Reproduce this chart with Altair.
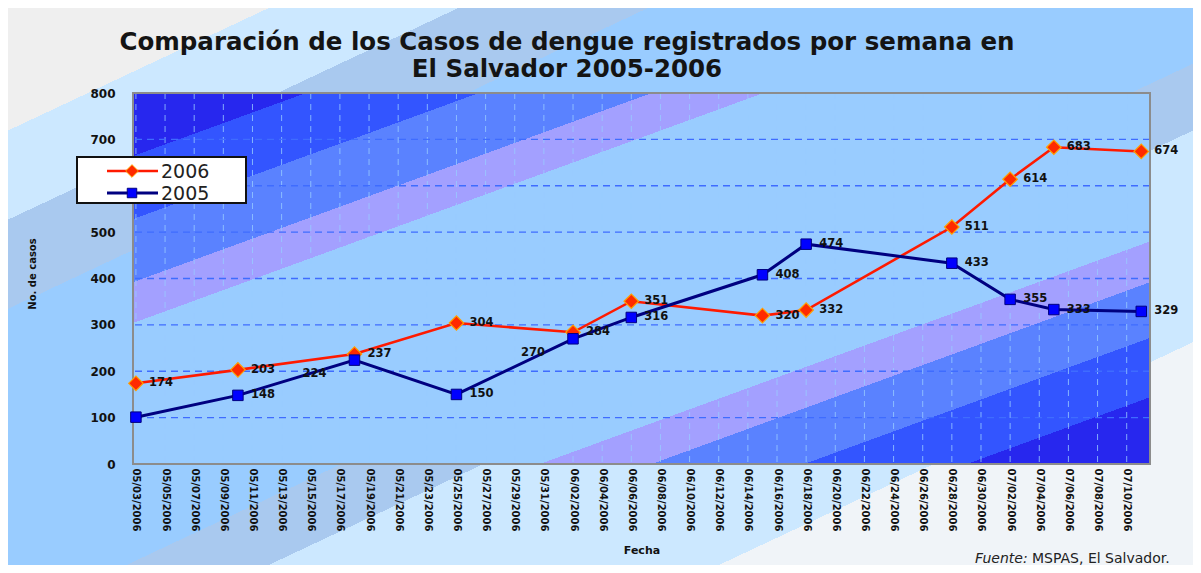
import json
import pandas as pd
import altair as alt

# ---------------- data ----------------
series_names = ["2006", "2005"]
point_dates = ["05/03/2006", "05/10/2006", "05/18/2006", "05/25/2006", "06/02/2006", "06/06/2006",
               "06/15/2006", "06/18/2006", "06/28/2006", "07/02/2006", "07/05/2006", "07/11/2006"]
cases_2006 = [174, 203, 237, 304, 284, 351, 320, 332, 511, 614, 683, 674]
cases_2005 = [101, 148, 224, 150, 270, 316, 408, 474, 433, 355, 333, 329]
tick_labels = ["05/03/2006", "05/05/2006", "05/07/2006", "05/09/2006", "05/11/2006", "05/13/2006",
               "05/15/2006", "05/17/2006", "05/19/2006", "05/21/2006", "05/23/2006", "05/25/2006",
               "05/27/2006", "05/29/2006", "05/31/2006", "06/02/2006", "06/04/2006", "06/06/2006",
               "06/08/2006", "06/10/2006", "06/12/2006", "06/14/2006", "06/16/2006", "06/18/2006",
               "06/20/2006", "06/22/2006", "06/24/2006", "06/26/2006", "06/28/2006", "06/30/2006",
               "07/02/2006", "07/04/2006", "07/06/2006", "07/08/2006", "07/10/2006"]
y_ticks = [0, 100, 200, 300, 400, 500, 600, 700, 800]
title_lines = ["Comparación de los Casos de dengue registrados por semana en", "El Salvador 2005-2006"]
x_title = "Fecha"
y_title = "No. de casos"
source_label = "Fuente:"
source_text = "MSPAS, El Salvador."

# label placement (style)
unlabeled = [("2005", "05/03/2006")]
left_labeled = [("2005", "05/18/2006"), ("2005", "06/02/2006")]
hidden_y_label = 600  # covered by the legend box in the original

# ---------------- build tables ----------------
origin = pd.to_datetime(tick_labels[0], format="%m/%d/%Y")


def day_of(s):
    return int((pd.to_datetime(s, format="%m/%d/%Y") - origin).days)


tick_days = [day_of(s) for s in tick_labels]
point_days = [day_of(s) for s in point_dates]

rows = []
for name, vals in zip(series_names, [cases_2006, cases_2005]):
    for d, day, v in zip(point_dates, point_days, vals):
        place = "right"
        if (name, d) in unlabeled:
            place = "none"
        elif (name, d) in left_labeled:
            place = "left"
        rows.append({"serie": name, "fecha": d, "dia": day, "casos": v, "lugar": place})
df = pd.DataFrame(rows)
tick_df = pd.DataFrame({"dia": tick_days})
grid_df = pd.DataFrame({"casos": y_ticks[1:]})
one = pd.DataFrame({"k": [0]})

W, H = 1017, 371
colors = {"2006": "#ff1a00", "2005": "#000080"}

label_expr = f"{json.dumps(tick_labels)}[indexof({json.dumps(tick_days)}, datum.value)]"

x_axis = alt.Axis(values=tick_days, labelExpr=label_expr, labelAngle=90, labelAlign="left",
                  labelBaseline="middle", labelFont="DejaVu Sans", labelFontWeight="bold",
                  labelFontSize=10, labelColor="#111111", labelPadding=4, labelOverlap=False,
                  labelFlush=False, labelBound=False, ticks=False, domain=False, grid=False,
                  title=x_title, titleFont="DejaVu Sans", titleFontSize=11, titleFontWeight="bold",
                  titleColor="#111111", titleY=86, titleBaseline="middle", zindex=1)
y_axis = alt.Axis(values=y_ticks, labelExpr=f"datum.value == {hidden_y_label} ? '' : datum.label",
                  labelFont="DejaVu Sans", labelFontWeight="bold", labelFontSize=12,
                  labelColor="#111111", labelPadding=18, ticks=False, domain=False, grid=False,
                  title=y_title, titleFont="DejaVu Sans", titleFontSize=10, titleFontWeight="bold",
                  titleColor="#111111", titleX=-101, titleY=H / 2 - 5, titleBaseline="middle",
                  titleAngle=270, zindex=1)


def X():
    return alt.X("dia:Q", scale=alt.Scale(domain=[-0.2, 69.6], nice=False, zero=False), axis=x_axis)


def Y():
    return alt.Y("casos:Q", scale=alt.Scale(domain=[0, 800], nice=False, zero=True), axis=y_axis)


def hard_stops(edges, cols):
    stops = []
    for i, c in enumerate(cols):
        stops.append(alt.GradientStop(color=c, offset=edges[i]))
        stops.append(alt.GradientStop(color=c, offset=edges[i + 1]))
    return stops


outer_edges = [0, 0.11, 0.19, 0.27, 0.55, 0.61, 0.80, 1]
outer_cols = ["#efefef", "#cce8ff", "#a9c9ef", "#99ccff", "#a9c9ef", "#cce8ff", "#f0f4f8"]
plot_edges = [0, 0.085, 0.17, 0.255, 0.31, 0.70, 0.755, 0.83, 0.91, 1]
plot_cols = ["#2727ee", "#3355ff", "#5a82ff", "#a3a0ff", "#99ccff", "#a3a0ff", "#5a82ff", "#3355ff", "#2727ee"]

outer_bg = alt.Chart(one).mark_rect(
    fill=alt.LinearGradient(gradient="linear", stops=hard_stops(outer_edges, outer_cols),
                            x1=0, y1=0, x2=1, y2=1)
).encode(x=alt.value(-125), x2=alt.value(1060), y=alt.value(-85), y2=alt.value(472))

plot_bg = alt.Chart(one).mark_rect(
    fill=alt.LinearGradient(gradient="linear", stops=hard_stops(plot_edges, plot_cols),
                            x1=0, y1=0, x2=1, y2=1)
).encode(x=alt.value(0), x2=alt.value(W), y=alt.value(0), y2=alt.value(H))

vgrid = alt.Chart(tick_df).mark_rule(color="#99ccff", strokeDash=[6, 5], strokeWidth=1,
                                     opacity=0.8).encode(x=X())
hgrid = alt.Chart(grid_df).mark_rule(color="#3f6cff", strokeDash=[7, 5], strokeWidth=1.3).encode(y=Y())

border = alt.Chart(one).mark_rect(fillOpacity=0, stroke="#8c8c8c", strokeWidth=2).encode(
    x=alt.value(0), x2=alt.value(W), y=alt.value(0), y2=alt.value(H))

line06 = alt.Chart(df).transform_filter(alt.datum.serie == "2006").mark_line(
    color=colors["2006"], strokeWidth=2.6).encode(x=X(), y=Y())
line05 = alt.Chart(df).transform_filter(alt.datum.serie == "2005").mark_line(
    color=colors["2005"], strokeWidth=3).encode(x=X(), y=Y())
pts06 = alt.Chart(df).transform_filter(alt.datum.serie == "2006").mark_point(
    shape="diamond", filled=True, fill="#ff2a00", stroke="#ffa000", strokeWidth=1.2, size=210,
    opacity=1).encode(x=X(), y=Y())
pts05 = alt.Chart(df).transform_filter(alt.datum.serie == "2005").mark_point(
    shape="square", filled=True, fill="#0000ff", stroke="#000080", strokeWidth=1, size=110,
    opacity=1).encode(x=X(), y=Y())

lab_right = alt.Chart(df).transform_filter(alt.datum.lugar == "right").mark_text(
    align="left", baseline="middle", dx=13, font="DejaVu Sans", fontWeight="bold", fontSize=11.5,
    color="#111111").encode(x=X(), y=Y(), text="casos:Q")
lab_left = alt.Chart(df).transform_filter(alt.datum.lugar == "left").mark_text(
    align="right", baseline="middle", dx=-28, dy=14, font="DejaVu Sans", fontWeight="bold",
    fontSize=11.5, color="#111111").encode(x=X(), y=Y(), text="casos:Q")

# legend (drawn as a boxed key)
leg_box = alt.Chart(one).mark_rect(fill="white", stroke="#111111", strokeWidth=2).encode(
    x=alt.value(-56), x2=alt.value(113), y=alt.value(64), y2=alt.value(110))
leg_layers = [leg_box]
leg_style = {"2006": ("diamond", "#ff2a00", "#ffa000", 160, 2.6),
             "2005": ("square", "#0000ff", "#000080", 90, 3)}
for i, name in enumerate(series_names):
    shp, fl, st, sz, lw = leg_style[name]
    yy = 78 + 22 * i
    leg_layers.append(alt.Chart(one).mark_rule(color=colors[name], strokeWidth=lw).encode(
        x=alt.value(-26), x2=alt.value(25), y=alt.value(yy)))
    leg_layers.append(alt.Chart(one).mark_point(shape=shp, filled=True, fill=fl, stroke=st,
                                                strokeWidth=1, size=sz, opacity=1).encode(
        x=alt.value(-1), y=alt.value(yy)))
    leg_layers.append(alt.Chart(one).mark_text(text=name, align="left", baseline="middle",
                                               font="DejaVu Sans", fontSize=19, color="#222222").encode(
        x=alt.value(28), y=alt.value(yy + 1)))

title = alt.Chart(one).mark_text(text=title_lines, align="center", baseline="alphabetic",
                                 font="DejaVu Sans", fontSize=24.5, fontWeight="bold", lineHeight=27,
                                 color="#141414").encode(x=alt.value(434), y=alt.value(-43))

src1 = alt.Chart(one).mark_text(text=source_label, align="left", baseline="alphabetic",
                                font="DejaVu Sans", fontSize=14, fontStyle="italic",
                                color="#222222").encode(x=alt.value(842), y=alt.value(470))
src2 = alt.Chart(one).mark_text(text=source_text, align="left", baseline="alphabetic",
                                font="DejaVu Sans", fontSize=14, color="#222222").encode(
    x=alt.value(899), y=alt.value(470))

chart = alt.layer(
    outer_bg, plot_bg, vgrid, hgrid, border, line06, line05, pts06, pts05, lab_right, lab_left,
    *leg_layers, title, src1, src2
).properties(width=W, height=H, padding=0).configure_view(strokeWidth=0)

chart.save("out.html", embed_options={"renderer": "svg", "actions": False})
